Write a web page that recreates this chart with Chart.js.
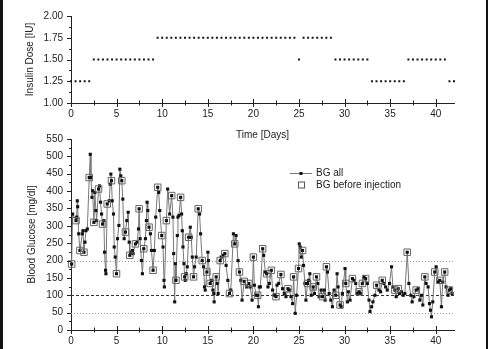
<!DOCTYPE html>
<html>
<head>
<meta charset="utf-8">
<script src="https://cdn.jsdelivr.net/npm/chart.js@4.4.1/dist/chart.umd.min.js"></script>
<style>
  html, body { margin: 0; padding: 0; background: #fff; }
  body { width: 488px; height: 349px; position: relative; overflow: hidden; }
  canvas { position: absolute; left: 0; }
  #dose-chart { top: 0; }
  #bg-chart { top: 125px; }
  #frame { position: absolute; left: 0; top: 0; width: 488px; height: 349px; box-sizing: border-box;
           border-left: 3px solid #111; border-right: 2px solid #111; pointer-events: none; }
</style>
</head>
<body>
<canvas id="dose-chart" width="488" height="150"></canvas>
<canvas id="bg-chart" width="488" height="224"></canvas>
<div id="frame"></div>
<script>
// Insulin dose, one entry per injection (twice a day)
const doseDay = [
  0, 0.5, 1, 1.5, 2, 2.5, 3, 3.5, 4, 4.5, 5, 5.5, 6, 6.5, 7, 7.5, 8, 8.5, 9, 9.5,
  10, 10.5, 11, 11.5, 12, 12.5, 13, 13.5, 14, 14.5, 15, 15.5, 16, 16.5, 17, 17.5, 18, 18.5, 19, 19.5,
  20, 20.5, 21, 21.5, 22, 22.5, 23, 23.5, 24, 24.5, 25, 25.5, 26, 26.5, 27, 27.5, 28, 28.5, 29, 29.5,
  30, 30.5, 31, 31.5, 32, 32.5, 33, 33.5, 34, 34.5, 35, 35.5, 36, 36.5, 37, 37.5, 38, 38.5, 39, 39.5,
  40, 40.5, 41, 41.5, 42
];
const doseIU = [
  1.25, 1.25, 1.25, 1.25, 1.25, 1.5, 1.5, 1.5, 1.5, 1.5, 1.5, 1.5, 1.5, 1.5, 1.5, 1.5, 1.5, 1.5, 1.5, 1.75,
  1.75, 1.75, 1.75, 1.75, 1.75, 1.75, 1.75, 1.75, 1.75, 1.75, 1.75, 1.75, 1.75, 1.75, 1.75, 1.75, 1.75, 1.75, 1.75, 1.75,
  1.75, 1.75, 1.75, 1.75, 1.75, 1.75, 1.75, 1.75, 1.75, 1.75, 1.5, 1.75, 1.75, 1.75, 1.75, 1.75, 1.75, 1.75, 1.5, 1.5,
  1.5, 1.5, 1.5, 1.5, 1.5, 1.5, 1.25, 1.25, 1.25, 1.25, 1.25, 1.25, 1.25, 1.25, 1.5, 1.5, 1.5, 1.5, 1.5, 1.5,
  1.5, 1.5, 1.5, 1.25, 1.25
];

// Blood glucose, all measurements [mg/dl]
const bgDay = [
  0.07, 0.18, 0.55, 0.62, 0.69, 0.73, 0.84, 0.98, 1.24, 1.31, 1.42, 1.53, 1.64, 1.79,
  2.0, 2.11, 2.19, 2.3, 2.37, 2.51, 2.62, 2.73, 2.81, 3.02, 3.13, 3.24, 3.35, 3.46, 3.61, 3.68, 3.79, 3.83, 3.97,
  4.19, 4.3, 4.37, 4.44, 4.52, 4.66, 4.74, 4.85, 4.99, 5.1, 5.25, 5.36, 5.46, 5.57, 5.68, 5.83, 5.97,
  6.12, 6.27, 6.38, 6.45, 6.56, 6.74, 6.81, 7.07, 7.25, 7.4, 7.47, 7.58, 7.72, 7.83, 7.98,
  8.16, 8.27, 8.34, 8.42, 8.56, 8.71, 8.82, 9.0, 9.14, 9.29, 9.51, 9.62, 9.73, 9.95,
  10.09, 10.2, 10.24, 10.46, 10.6, 10.82, 11.04, 11.18, 11.26, 11.37, 11.44, 11.51, 11.66, 11.73, 11.84,
  12.02, 12.13, 12.2, 12.28, 12.39, 12.46, 12.53, 12.64, 12.75, 12.9, 13.08, 13.19, 13.3, 13.44, 13.55, 13.73, 13.95,
  14.1, 14.21, 14.39, 14.54, 14.64, 14.72, 14.9, 15.01, 15.08, 15.26, 15.41, 15.56, 15.66, 15.7, 15.92,
  16.03, 16.14, 16.36, 16.47, 16.65, 16.87, 17.01, 17.2, 17.38, 17.52, 17.81, 17.96,
  18.1, 18.32, 18.47, 18.62, 18.76, 19.0, 19.27, 19.5, 19.65, 19.86,
  20.0, 20.11, 20.29, 20.47, 20.55, 20.65, 20.77, 21.02, 21.13, 21.31, 21.46, 21.6, 21.75, 21.97,
  22.11, 22.33, 22.48, 22.59, 22.77, 23.02, 23.2, 23.39, 23.57, 23.79, 23.94,
  24.12, 24.3, 24.41, 24.59, 24.74, 24.95, 25.03, 25.14, 25.25, 25.39, 25.5, 25.65, 25.76, 25.94,
  26.05, 26.19, 26.34, 26.56, 26.7, 26.92, 27.07, 27.21, 27.43, 27.58, 27.76, 27.87,
  28.01, 28.12, 28.31, 28.49, 28.67, 28.85, 29.03, 29.18, 29.29, 29.51, 29.62, 29.76,
  30.05, 30.13, 30.31, 30.42, 30.6, 30.86, 31.04, 31.22, 31.4, 31.58, 31.73, 31.95,
  32.13, 32.31, 32.5, 32.68, 32.79, 32.97, 33.11, 33.33, 33.52, 33.77, 33.95,
  34.13, 34.32, 34.5, 34.68, 34.93, 35.15, 35.3, 35.52, 35.66, 35.88,
  36.03, 36.25, 36.43, 36.61, 36.87, 37.05, 37.27, 37.41, 37.6, 37.85,
  38.07, 38.25, 38.43, 38.58, 38.8, 38.94, 39.16, 39.31, 39.42, 39.53, 39.67, 39.89,
  40.04, 40.26, 40.44, 40.62, 40.77, 40.98, 41.13, 41.35, 41.49, 41.64, 41.79
];
const bgValue = [
  190, 334, 315, 325, 372, 355, 277, 229, 277, 286, 224, 253, 286, 291,
  439, 506, 439, 382, 401, 310, 396, 344, 315, 406, 415, 368, 334, 305, 315, 224, 172, 162, 363,
  372, 420, 449, 430, 372, 334, 239, 210, 162, 263, 301, 463, 444, 430, 377, 263, 282,
  315, 339, 253, 215, 224, 229, 220, 248, 253, 291, 349, 263, 200, 162, 234,
  263, 315, 368, 344, 296, 277, 229, 172, 229, 325, 411, 396, 344, 272,
  239, 143, 124, 315, 406, 334, 387, 325, 220, 81, 191, 143, 272, 325, 330,
  382, 334, 286, 239, 191, 153, 143, 162, 182, 267, 296, 267, 210, 153, 182, 210, 349,
  334, 277, 200, 182, 124, 115, 167, 224, 200, 134, 143, 115, 105, 81, 153,
  134, 105, 200, 210, 215, 220, 186, 143, 105, 115, 277, 248,
  272, 200, 167, 143, 86, 140, 124, 134, 124, 86,
  210, 129, 100, 100, 67, 124, 124, 234, 215, 167, 162, 124, 134, 172,
  115, 100, 96, 129, 134, 160, 119, 105, 96, 119, 115,
  96, 76, 153, 48, 100, 177, 248, 239, 210, 229, 186, 134, 86, 134,
  143, 162, 100, 124, 105, 153, 134, 96, 115, 96, 115, 86,
  182, 167, 105, 86, 67, 115, 100, 162, 124, 72, 67, 105,
  177, 134, 81, 110, 86, 148, 143, 134, 105, 110, 105, 134,
  153, 148, 134, 86, 53, 67, 81, 100, 129, 115, 110,
  143, 134, 124, 115, 134, 182, 124, 115, 96, 119,
  105, 110, 100, 105, 224, 134, 100, 81, 96, 115,
  119, 86, 100, 72, 153, 134, 124, 76, 57, 38, 81, 167,
  182, 138, 143, 67, 138, 167, 124, 100, 115, 119, 105
];

// Blood glucose measured right before an injection
const injDay = [
  0.07, 0.55, 0.98, 1.42, 2.0, 2.51, 3.02, 3.46, 3.97, 4.44, 4.99, 5.57, 5.97, 6.45, 7.07,
  7.47, 7.98, 8.56, 9.0, 9.51, 9.95, 10.46, 11.04, 11.51, 12.02, 12.46, 12.9, 13.44, 13.95, 14.39,
  14.9, 15.26, 15.92, 16.36, 16.87, 17.38, 17.96, 18.47, 19.0, 19.5, 20.0, 20.47, 21.02, 21.46, 21.97,
  22.48, 23.02, 23.79, 24.41, 24.95, 25.39, 25.94, 26.56, 26.92, 27.58, 28.01, 29.03, 29.51, 30.13, 30.86,
  31.58, 31.95, 32.31, 33.52, 34.13, 35.52, 35.88, 36.87, 37.85, 38.8, 39.89, 40.44, 40.98, 41.49
];
const injValue = [
  190, 315, 229, 224, 439, 310, 406, 305, 363, 430, 162, 430, 282, 215, 248,
  349, 234, 296, 172, 411, 272, 315, 387, 143, 382, 153, 267, 153, 349, 200,
  167, 134, 153, 200, 220, 105, 248, 167, 140, 134, 210, 100, 234, 162, 172,
  96, 160, 119, 153, 177, 229, 134, 124, 153, 96, 182, 100, 72, 134, 148,
  110, 134, 148, 129, 143, 115, 119, 224, 115, 153, 167, 143, 167, 115
];

const dayTicks = [0, 5, 10, 15, 20, 25, 30, 35, 40];
const doseTicks = [1.00, 1.25, 1.50, 1.75, 2.00];
const bgTicks = [0, 50, 100, 150, 200, 250, 300, 350, 400, 450, 500, 550];
const bgLimits = [50, 100, 200];

const FONT = { family: '"Liberation Sans", Arial, sans-serif', size: 10 };
const INK = '#222';

Chart.defaults.font.family = FONT.family;
Chart.defaults.font.size = FONT.size;
Chart.defaults.color = INK;

function toPoints(xs, ys) {
  return xs.map((x, i) => ({ x: x, y: ys[i] }));
}

// small tick marks: crossing ticks on the time axis, outward ticks on the value axis
const tickMarks = {
  id: 'tickMarks',
  afterDraw(chart) {
    const { ctx, chartArea, scales: { x, y } } = chart;
    ctx.save();
    ctx.strokeStyle = INK;
    ctx.lineWidth = 1;
    ctx.beginPath();
    for (let d = 0; d <= x.max + 1e-6; d += 2.5) {
      const px = Math.round(x.getPixelForValue(d)) + 0.5;
      const len = d % 5 === 0 ? 4 : 2.5;
      ctx.moveTo(px, chartArea.bottom - len);
      ctx.lineTo(px, chartArea.bottom + len);
    }
    const yt = y.ticks.map(t => t.value);
    yt.forEach((v, i) => {
      const py = Math.round(y.getPixelForValue(v)) + 0.5;
      ctx.moveTo(chartArea.left - 4, py);
      ctx.lineTo(chartArea.left, py);
      if (i < yt.length - 1) {
        const pm = Math.round(y.getPixelForValue((v + yt[i + 1]) / 2)) + 0.5;
        ctx.moveTo(chartArea.left - 2, pm);
        ctx.lineTo(chartArea.left, pm);
      }
    });
    ctx.stroke();
    ctx.restore();
  }
};

// horizontal guide lines at 50, 100 and 200 mg/dl
const limitLines = {
  id: 'limitLines',
  beforeDatasetsDraw(chart) {
    const { ctx, chartArea, scales: { y } } = chart;
    ctx.save();
    bgLimits.forEach(v => {
      const py = Math.round(y.getPixelForValue(v)) + 0.5;
      ctx.beginPath();
      if (v === 100) {
        ctx.strokeStyle = '#333';
        ctx.setLineDash([3, 2]);
      } else {
        ctx.strokeStyle = '#999';
        ctx.setLineDash([1, 2]);
      }
      ctx.lineWidth = 1;
      ctx.moveTo(chartArea.left, py);
      ctx.lineTo(chartArea.right, py);
      ctx.stroke();
    });
    ctx.restore();
  }
};

// legend box in the upper right of the glucose panel
const bgLegend = {
  id: 'bgLegend',
  afterDraw(chart) {
    const { ctx, chartArea } = chart;
    const x0 = chartArea.left + 219;
    const y1 = chartArea.top + 34;
    const y2 = y1 + 12;
    ctx.save();
    ctx.strokeStyle = '#777';
    ctx.lineWidth = 1;
    ctx.beginPath();
    ctx.moveTo(x0, y1 + 0.5);
    ctx.lineTo(x0 + 22, y1 + 0.5);
    ctx.stroke();
    ctx.fillStyle = '#111';
    ctx.fillRect(x0 + 9.5, y1 - 1, 3, 3);
    ctx.strokeStyle = '#555';
    ctx.strokeRect(x0 + 8.5, y2 - 3, 6, 6);
    ctx.fillStyle = INK;
    ctx.font = FONT.size + 'px ' + FONT.family;
    ctx.textBaseline = 'middle';
    ctx.fillText('BG all', x0 + 26, y1);
    ctx.fillText('BG before injection', x0 + 26, y2);
    ctx.restore();
  }
};

function timeAxis(height, withTitle) {
  return {
    type: 'linear',
    min: 0,
    max: 42,
    afterBuildTicks: s => { s.ticks = dayTicks.map(v => ({ value: v })); },
    afterFit: s => { s.height = height; },
    grid: { display: false, drawTicks: false },
    border: { display: true, color: INK, width: 1 },
    ticks: { padding: 5, maxRotation: 0, autoSkip: false, color: INK },
    title: { display: withTitle, text: 'Time [Days]', color: INK, padding: { top: 0, bottom: 9 } }
  };
}

function valueAxis(min, max, tickList, label, titleOffset, fmt) {
  return {
    type: 'linear',
    min: min,
    max: max,
    afterBuildTicks: s => { s.ticks = tickList.map(v => ({ value: v })); },
    afterFit: s => { s.width = 71; },
    grid: { display: false, drawTicks: false },
    border: { display: true, color: INK, width: 1 },
    ticks: { padding: 8, color: INK, callback: fmt },
    title: { display: true, text: label, color: INK, padding: { top: titleOffset, bottom: 0 } }
  };
}

const common = {
  responsive: false,
  animation: false,
  events: [],
  plugins: { legend: { display: false }, tooltip: { enabled: false } }
};

new Chart(document.getElementById('dose-chart'), {
  type: 'scatter',
  data: {
    datasets: [{
      label: 'Insulin dose',
      data: toPoints(doseDay, doseIU),
      pointStyle: 'rect',
      pointRadius: 1.4,
      pointBorderWidth: 0,
      pointBackgroundColor: '#111',
      clip: false
    }]
  },
  options: {
    ...common,
    layout: { padding: { left: 0, right: 34, top: 16, bottom: 0 } },
    scales: {
      x: timeAxis(47, true),
      y: valueAxis(1, 2, doseTicks, 'Insulin Dose [IU]', 24, v => v.toFixed(2))
    }
  },
  plugins: [tickMarks]
});

new Chart(document.getElementById('bg-chart'), {
  type: 'scatter',
  data: {
    datasets: [{
      label: 'BG before injection',
      data: toPoints(injDay, injValue),
      pointStyle: 'rect',
      pointRadius: 4.6,
      pointBorderWidth: 1,
      pointBorderColor: '#666',
      pointBackgroundColor: 'rgba(0,0,0,0)',
      showLine: false,
      clip: false,
      order: 0
    }, {
      label: 'BG all',
      data: toPoints(bgDay, bgValue),
      showLine: true,
      borderColor: '#777',
      borderWidth: 1,
      tension: 0,
      pointStyle: 'rect',
      pointRadius: 2.2,
      pointBorderWidth: 0,
      pointBackgroundColor: '#111',
      clip: false,
      order: 1
    }]
  },
  options: {
    ...common,
    layout: { padding: { left: 0, right: 34, top: 13, bottom: 0 } },
    scales: {
      x: timeAxis(19, false),
      y: valueAxis(0, 550, bgTicks, 'Blood Glucose [mg/dl]', 26, v => String(v))
    }
  },
  plugins: [limitLines, tickMarks, bgLegend]
});
</script>
</body>
</html>
